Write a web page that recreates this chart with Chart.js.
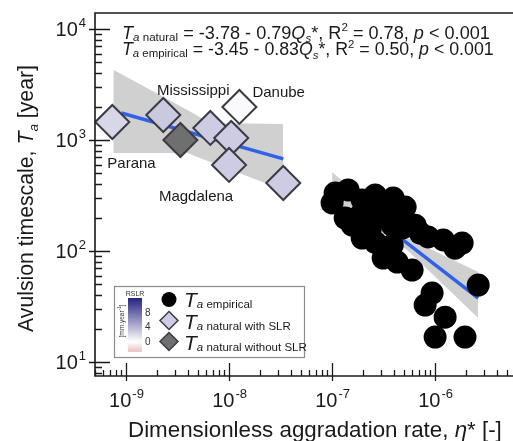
<!DOCTYPE html>
<html>
<head>
<meta charset="utf-8">
<script src="https://cdn.jsdelivr.net/npm/chart.js@4.4.1/dist/chart.umd.min.js"></script>
<style>
  html, body { margin: 0; padding: 0; background: #fff; overflow: hidden; }
  canvas { display: block; }
</style>
</head>
<body>
<canvas id="chart" width="513" height="441"></canvas>
<script>
// axis ranges (log scales) and labelled decades
const xMin = 5.0e-10, xMax = 5.7e-6;
const yMin = 7.5, yMax = 1.39e4;
const xTickExps = [-9, -8, -7, -6];
const yTickExps = [1, 2, 3, 4];

// natural avulsion timescale, with sea level rise
const natNames = ['Parana', 'Mississippi', '', 'Danube', '', 'Magdalena', ''];
const natEta  = [7.36e-10, 2.30e-9, 6.58e-9, 1.26e-8, 1.05e-8, 1.00e-8, 3.36e-8];
const natTa   = [1452, 1679, 1283, 1983, 1042, 596, 410];
const natRslr = [2.2, 3.0, 2.8, 0.3, 2.8, 2.8, 2.8];

// natural, without sea level rise
const noSlrEta = [3.37e-9];
const noSlrTa  = [1000];

// empirical avulsion timescale
const empEta = [1.07e-7, 1.00e-7, 1.43e-7, 1.96e-7, 1.57e-7, 1.34e-7, 2.62e-7, 3.92e-7,
                5.12e-7, 2.93e-7, 3.83e-7, 2.34e-7, 6.40e-7, 7.16e-7, 8.55e-7, 1.20e-6,
                1.83e-6, 1.56e-6, 2.62e-7, 3.83e-7, 3.13e-7, 4.29e-7, 5.98e-7, 4.79e-7,
                2.62e-6, 9.35e-7, 8.0e-7, 1.25e-6, 1.0e-6, 1.95e-6, 3.50e-7, 1.88e-7,
                1.96e-7];
const empTa  = [333, 271, 355, 288, 171, 198, 320, 300,
                249, 224, 171, 155, 171, 145, 134, 126,
                118, 106, 120, 113, 86.5, 79.6, 67.4, 161,
                49.4, 41.9, 32.6, 25.4, 16.8, 16.8, 198, 211,
                131];

// regression fits and confidence bands
const natFitEta = [9.0e-10, 3.36e-8];
const natFitTa  = [1750, 675];
const natBandEta = [7.53e-10, 3.94e-9, 6.58e-9, 3.36e-8];
const natBandHi  = [4280, 1862, 1424, 1393];
const natBandLo  = [764, 764, 634, 355];
const empFitEta = [1.0e-7, 2.62e-6];
const empFitTa  = [393, 37.7];
const empBandEta = [1.0e-7, 5.36e-7, 2.62e-6];
const empBandHi  = [515, 131, 64.7];
const empBandLo  = [288, 102, 24.9];

// RSLR colour bar
const rslrTicks = [0, 4, 8];
const rslrMin = -2.8, rslrMax = 12.2;

const FONT = '"Liberation Sans", Arial, sans-serif';
const INK = '#1a1a1a';
const BAND = 'rgb(208,208,208)';
const BLUE = '#2f62e6';
const EDGE = '#3b3b44';

function rslrColor(v) {
  if (v >= 0) {
    const t = Math.min(v / 12, 1);
    return `rgb(${Math.round(255 - 215 * t)},${Math.round(255 - 217 * t)},${Math.round(255 - 125 * t)})`;
  }
  const t = Math.min(-v / 3, 1);
  return `rgb(${Math.round(255 - 23 * t)},${Math.round(255 - 70 * t)},${Math.round(255 - 70 * t)})`;
}

function pts(xs, ys) {
  return xs.map((x, i) => ({ x: x, y: ys[i] }));
}

// draws a row of text runs (italic / subscript / superscript), returns width
function runs(ctx, x, y, list, size, measureOnly) {
  let w = 0;
  list.forEach(r => {
    const s = r.sub || r.sup ? (r.fs || size * 0.64) : size;
    ctx.font = (r.i ? 'italic ' : '') + s + 'px ' + FONT;
    const dy = r.sub ? size * (r.low || 0.12) : r.sup ? -size * 0.42 : 0;
    if (!measureOnly) ctx.fillText(r.t, x + w, y + dy);
    w += ctx.measureText(r.t).width;
  });
  return w;
}

function fitSize(ctx, list, base, target) {
  const w = runs(ctx, 0, 0, list, base, true);
  return base * target / w;
}

const overlay = {
  id: 'overlay',
  afterDraw(chart) {
    const ctx = chart.ctx, xs = chart.scales.x, ys = chart.scales.y, a = chart.chartArea;
    ctx.save();
    ctx.fillStyle = INK;
    ctx.strokeStyle = INK;

    // frame
    ctx.lineWidth = 1.6;
    ctx.beginPath();
    ctx.moveTo(chart.width, a.top);
    ctx.lineTo(a.left, a.top);
    ctx.lineTo(a.left, a.bottom);
    ctx.lineTo(chart.width, a.bottom);
    ctx.stroke();

    // ticks
    ctx.lineWidth = 1.3;
    ctx.beginPath();
    for (let k = -10; k <= -5; k++) {
      for (let m = 1; m <= 9; m++) {
        const v = m * Math.pow(10, k);
        if (v < xMin || v > xMax) continue;
        const px = Math.round(xs.getPixelForValue(v)) + 0.5;
        ctx.moveTo(px, m === 1 ? a.bottom + 5 : a.bottom);
        ctx.lineTo(px, m === 1 ? a.bottom - 13 : a.bottom - 6);
      }
    }
    for (let k = 0; k <= 4; k++) {
      for (let m = 1; m <= 9; m++) {
        const v = m * Math.pow(10, k);
        if (v < yMin || v > yMax) continue;
        const py = Math.round(ys.getPixelForValue(v)) + 0.5;
        ctx.moveTo(m === 1 ? a.left - 6 : a.left, py);
        ctx.lineTo(m === 1 ? a.left + 15 : a.left + 7, py);
      }
    }
    ctx.stroke();

    // tick labels
    ctx.textBaseline = 'alphabetic';
    ctx.textAlign = 'left';
    xTickExps.forEach(e => {
      const px = xs.getPixelForValue(Math.pow(10, e));
      ctx.font = '20px ' + FONT;
      const w1 = ctx.measureText('10').width;
      ctx.font = '13px ' + FONT;
      const w2 = ctx.measureText('-' + Math.abs(e)).width;
      const x0 = px - (w1 + w2) / 2;
      ctx.font = '20px ' + FONT;
      ctx.fillText('10', x0, a.bottom + 31);
      ctx.font = '13px ' + FONT;
      ctx.fillText('-' + Math.abs(e), x0 + w1 + 1, a.bottom + 22);
    });
    yTickExps.forEach(e => {
      const py = ys.getPixelForValue(Math.pow(10, e));
      ctx.font = '13px ' + FONT;
      const w2 = ctx.measureText(String(e)).width;
      ctx.font = '20px ' + FONT;
      const w1 = ctx.measureText('10').width;
      const x1 = a.left - 9;
      ctx.fillText('10', x1 - w2 - w1 - 1, py + 7);
      ctx.font = '13px ' + FONT;
      ctx.fillText(String(e), x1 - w2, py - 2);
    });

    // axis titles
    const xt = [{ t: 'Dimensionless aggradation rate, ' }, { t: 'η', i: 1 }, { t: '*' }, { t: ' [-]' }];
    const xs1 = fitSize(ctx, xt, 19, 374);
    runs(ctx, 128, 437, xt, xs1);

    const yt = [{ t: 'Avulsion timescale, ' }, { t: 'T', i: 1 }, { t: 'a', i: 1, sub: 1, low: 0.22 }, { t: ' [year]' }];
    const ys1 = fitSize(ctx, yt, 19, 267);
    ctx.save();
    ctx.translate(33, 332);
    ctx.rotate(-Math.PI / 2);
    runs(ctx, 0, 0, yt, ys1);
    ctx.restore();

    // regression equations
    const eq1 = [{ t: 'T', i: 1 }, { t: 'a', i: 1, sub: 1 }, { t: ' natural', sub: 1 }, { t: ' = -3.78 - 0.79' },
      { t: 'Q', i: 1 }, { t: 's', i: 1, sub: 1, low: 0.2 }, { t: '*' }, { t: ', R' }, { t: '2', sup: 1 },
      { t: ' = 0.78, ' }, { t: 'p', i: 1 }, { t: ' < 0.001' }];
    const eq2 = [{ t: 'T', i: 1 }, { t: 'a', i: 1, sub: 1 }, { t: ' empirical', sub: 1 }, { t: ' = -3.45 - 0.83' },
      { t: 'Q', i: 1 }, { t: 's', i: 1, sub: 1, low: 0.2 }, { t: '*' }, { t: ', R' }, { t: '2', sup: 1 },
      { t: ' = 0.50, ' }, { t: 'p', i: 1 }, { t: ' < 0.001' }];
    runs(ctx, 122, 38.5, eq1, fitSize(ctx, eq1, 18, 368));
    runs(ctx, 122, 55, eq2, fitSize(ctx, eq2, 18, 372));

    // river names
    ctx.font = '15px ' + FONT;
    const nameOff = { Parana: [-5, 46, 'left'], Mississippi: [30, -20, 'center'], Danube: [13, -10, 'left'], Magdalena: [-33, 36, 'center'] };
    natNames.forEach((n, i) => {
      if (!n) return;
      const o = nameOff[n];
      ctx.textAlign = o[2];
      ctx.fillText(n, xs.getPixelForValue(natEta[i]) + o[0], ys.getPixelForValue(natTa[i]) + o[1]);
    });
    ctx.textAlign = 'left';

    // legend box
    ctx.fillStyle = '#fff';
    ctx.fillRect(114, 286, 190, 71);
    ctx.strokeStyle = '#8c8c8c';
    ctx.lineWidth = 1.2;
    ctx.strokeRect(114.5, 286.5, 190, 71);

    // colour bar
    const cbTop = 298, cbBot = 352, cbX = 128, cbW = 14;
    const cbY = v => cbBot - (v - rslrMin) / (rslrMax - rslrMin) * (cbBot - cbTop);
    const g = ctx.createLinearGradient(0, cbTop, 0, cbBot);
    for (let v = rslrMax; v >= rslrMin; v -= 0.5) {
      g.addColorStop((cbY(v) - cbTop) / (cbBot - cbTop), rslrColor(v));
    }
    ctx.fillStyle = g;
    ctx.fillRect(cbX, cbTop, cbW, cbBot - cbTop);
    ctx.fillStyle = '#333';
    ctx.font = '7px ' + FONT;
    ctx.textAlign = 'center';
    ctx.fillText('RSLR', cbX + cbW / 2, cbTop - 2);
    ctx.textAlign = 'left';
    ctx.textBaseline = 'middle';
    ctx.font = '10px ' + FONT;
    rslrTicks.forEach(v => ctx.fillText(String(v), cbX + cbW + 3, cbY(v)));
    ctx.textBaseline = 'alphabetic';
    ctx.save();
    ctx.translate(cbX - 4, 321);
    ctx.rotate(-Math.PI / 2);
    ctx.textAlign = 'left';
    const cbl = [{ t: '[mm.year' }, { t: '-1', sup: 1, fs: 4.5 }, { t: ']' }];
    const cw = runs(ctx, 0, 0, cbl, 6.5, true);
    runs(ctx, -cw / 2, 0, cbl, 6.5);
    ctx.restore();

    // legend markers
    ctx.fillStyle = '#000';
    ctx.beginPath();
    ctx.arc(169, 299.5, 7.5, 0, Math.PI * 2);
    ctx.fill();
    const diamond = (cx, cy, r, fill) => {
      ctx.beginPath();
      ctx.moveTo(cx, cy - r); ctx.lineTo(cx + r, cy); ctx.lineTo(cx, cy + r); ctx.lineTo(cx - r, cy);
      ctx.closePath();
      ctx.fillStyle = fill; ctx.fill();
      ctx.strokeStyle = EDGE; ctx.lineWidth = 1.5; ctx.stroke();
    };
    diamond(169, 320.5, 9, rslrColor(2.8));
    diamond(169, 341.5, 9, '#6f6f6f');

    // legend texts
    ctx.fillStyle = INK;
    const lg = [['a empirical', 307], ['a natural with SLR', 328.5], ['a natural without SLR', 350]];
    lg.forEach(([s, y]) => {
      ctx.font = 'italic 21px ' + FONT;
      ctx.fillText('T', 184, y);
      const wt = ctx.measureText('T').width;
      ctx.font = 'italic 11.5px ' + FONT;
      ctx.fillText('a', 184 + wt, y + 1);
      const wa = ctx.measureText('a').width;
      ctx.font = '11.5px ' + FONT;
      ctx.fillText(s.slice(1), 184 + wt + wa, y + 1);
    });

    ctx.restore();
  }
};

new Chart(document.getElementById('chart'), {
  type: 'scatter',
  data: {
    datasets: [
      {
        label: 'Ta empirical',
        data: pts(empEta, empTa),
        pointRadius: 11.5,
        backgroundColor: '#000',
        borderColor: '#000',
        borderWidth: 0
      },
      {
        label: 'Ta natural with SLR',
        data: pts(natEta, natTa),
        pointStyle: 'rectRot',
        pointRadius: 17,
        backgroundColor: natRslr.map(rslrColor),
        borderColor: EDGE,
        borderWidth: 2
      },
      {
        label: 'Ta natural without SLR',
        data: pts(noSlrEta, noSlrTa),
        pointStyle: 'rectRot',
        pointRadius: 17,
        backgroundColor: '#6f6f6f',
        borderColor: EDGE,
        borderWidth: 2
      },
      {
        type: 'line',
        data: pts(natFitEta, natFitTa),
        borderColor: BLUE,
        borderWidth: 3.5,
        pointRadius: 0,
        fill: false
      },
      {
        type: 'line',
        data: pts(empFitEta, empFitTa),
        borderColor: BLUE,
        borderWidth: 3.5,
        pointRadius: 0,
        fill: false
      },
      {
        type: 'line',
        data: pts(natBandEta, natBandHi),
        borderWidth: 0,
        borderColor: 'rgba(0,0,0,0)',
        pointRadius: 0,
        fill: false
      },
      {
        type: 'line',
        data: pts(natBandEta, natBandLo),
        borderWidth: 0,
        borderColor: 'rgba(0,0,0,0)',
        backgroundColor: BAND,
        pointRadius: 0,
        fill: '-1'
      },
      {
        type: 'line',
        data: pts(empBandEta, empBandHi),
        borderWidth: 0,
        borderColor: 'rgba(0,0,0,0)',
        pointRadius: 0,
        fill: false
      },
      {
        type: 'line',
        data: pts(empBandEta, empBandLo),
        borderWidth: 0,
        borderColor: 'rgba(0,0,0,0)',
        backgroundColor: BAND,
        pointRadius: 0,
        fill: '-1'
      }
    ]
  },
  options: {
    responsive: false,
    animation: false,
    layout: { autoPadding: false, padding: { left: 95, top: 13, right: 0, bottom: 65 } },
    plugins: { legend: { display: false }, tooltip: { enabled: false } },
    scales: {
      x: { type: 'logarithmic', min: xMin, max: xMax, display: false },
      y: { type: 'logarithmic', min: yMin, max: yMax, display: false }
    }
  },
  plugins: [overlay]
});
</script>
</body>
</html>
